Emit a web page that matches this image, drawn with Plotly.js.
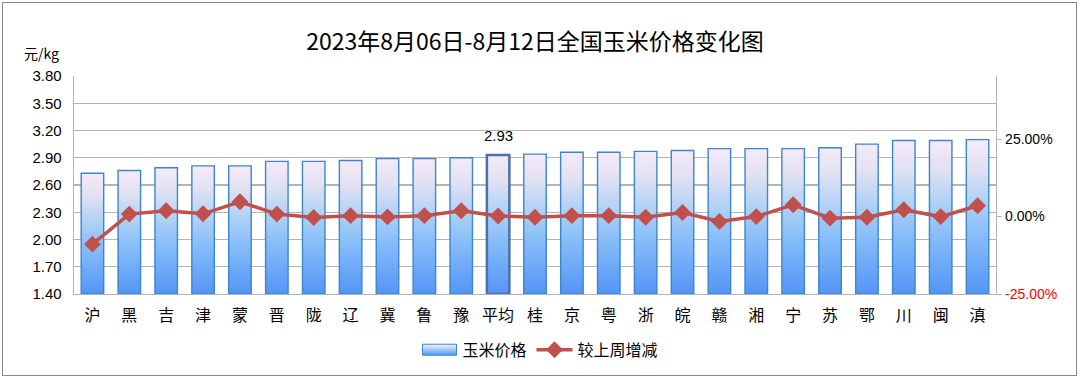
<!DOCTYPE html>
<html>
<head>
<meta charset="utf-8">
<script src="https://cdn.plot.ly/plotly-3.0.1.min.js"></script>
<style>
  html, body { margin: 0; padding: 0; background: #fff; }
  #wrap { position: relative; width: 1080px; height: 379px; }
  #chart { position: absolute; left: 0; top: 0; width: 1080px; height: 379px; }
  #frame { position: absolute; left: 2px; top: 2px; width: 1073px; height: 372px; border: 1px solid #8a8a8a; pointer-events: none; }
</style>
</head>
<body>
<div id="wrap"><div id="chart"></div><div id="frame"></div></div>
<script>
// ---- data ----
const titleText = "2023年8月06日-8月12日全国玉米价格变化图";
const regions = ["沪","黑","吉","津","蒙","晋","陇","辽","冀","鲁","豫","平均","桂","京","粤","浙","皖","赣","湘","宁","苏","鄂","川","闽","滇"];
const prices  = [2.73,2.76,2.79,2.81,2.81,2.86,2.86,2.87,2.89,2.89,2.90,2.93,2.94,2.96,2.96,2.97,2.98,3.00,3.00,3.00,3.01,3.05,3.09,3.09,3.10];
const weekChange = [-0.089,0.008,0.019,0.009,0.048,0.008,-0.003,0.003,-0.001,0.003,0.019,0.002,-0.002,0.003,0.003,-0.002,0.013,-0.016,0.000,0.038,-0.005,-0.002,0.022,0.000,0.035];
const priceName = "玉米价格";
const changeName = "较上周增减";
const avgLabel = "平均";
const leftTicks = [1.40,1.70,2.00,2.30,2.60,2.90,3.20,3.50,3.80];
const rightTicks = [-0.25,0,0.25];
const rightTickText = ['<span style="color:#ff0000">-25.00%</span>','0.00%','25.00%'];

const cjk = "Liberation Sans, Noto Sans CJK SC, sans-serif";
const avgIdx = regions.indexOf(avgLabel);
const axisMin = leftTicks[0];

const barLineColors = regions.map((r,i)=> i===avgIdx ? '#4a72a8' : '#3b86cc');
const barLineWidths = regions.map((r,i)=> i===avgIdx ? 2.5 : 1.4);

// bars start at the axis floor so the per-bar gradient spans only the visible part
const bars = {
  type: 'bar', name: priceName, x: regions, y: prices.map(v => v - axisMin), base: axisMin,
  marker: { color: '#8fc0f8', line: { color: barLineColors, width: barLineWidths } },
  hoverinfo: 'skip'
};
const line = {
  type: 'scatter', mode: 'lines+markers', name: changeName, x: regions, y: weekChange, yaxis: 'y2',
  line: { color: '#c0504d', width: 3.5 },
  marker: { symbol: 'diamond', size: 13, color: '#c0504d' },
  hoverinfo: 'skip'
};

const layout = {
  width: 1080, height: 379,
  margin: { l: 74, r: 84, t: 76, b: 85 },
  paper_bgcolor: 'rgba(0,0,0,0)', plot_bgcolor: '#fff',
  font: { family: cjk, color: '#000', size: 14 },
  title: { text: titleText, x: 0.5, xref: 'paper', xanchor: 'center', y: 0.89, yref: 'container', yanchor: 'middle',
           font: { family: 'Noto Sans CJK SC, sans-serif', size: 23, color: '#000' } },
  bargap: 0.39,
  showlegend: true,
  legend: { orientation: 'h', x: 0.5, xanchor: 'center', xref: 'container', y: 0.077, yref: 'container', yanchor: 'middle',
            font: { family: 'Noto Sans CJK SC, sans-serif', size: 16, color: '#000' }, itemwidth: 36, traceorder: 'normal' },
  xaxis: {
    type: 'category', range: [-0.5, regions.length - 0.5], showgrid: false, ticks: '', showline: true, linecolor: '#b4b4b4', linewidth: 1.3,
    ticklabelstandoff: 6,
    tickfont: { family: 'Noto Sans CJK SC, sans-serif', size: 16, color: '#000' }, automargin: false
  },
  yaxis: {
    range: [axisMin, 3.80], tickvals: leftTicks, tickformat: '.2f', showgrid: true, gridcolor: '#b4b4b4', gridwidth: 1.3,
    showline: true, linecolor: '#b4b4b4', linewidth: 1.3, ticks: '', ticklabelstandoff: 8, zeroline: false,
    tickfont: { family: cjk, size: 15, color: '#000' }, automargin: false
  },
  yaxis2: {
    overlaying: 'y', side: 'right', range: [-0.25, 0.454], tickvals: rightTicks, ticktext: rightTickText,
    showgrid: false, zeroline: false, showline: true, linecolor: '#b4b4b4', linewidth: 1.3,
    ticks: 'outside', ticklen: 5, tickcolor: '#b4b4b4', tickfont: { family: cjk, size: 14, color: '#000' }, automargin: false
  },
  annotations: [
    { text: '元/kg', xref: 'paper', yref: 'paper', x: -0.0564, y: 1.105, xanchor: 'left', yanchor: 'middle', showarrow: false,
      font: { family: 'Noto Sans CJK SC, sans-serif', size: 14, color: '#000' } },
    { text: prices[avgIdx].toFixed(2), x: avgLabel, y: prices[avgIdx], xref: 'x', yref: 'y', yshift: 20, showarrow: false,
      font: { family: cjk, size: 15, color: '#000' } }
  ]
};

Plotly.newPlot('chart', [bars, line], layout, { displayModeBar: false, staticPlot: true }).then(function (gd) {
  const svgNS = 'http://www.w3.org/2000/svg';
  const svg = gd.querySelector('.main-svg');
  let defs = svg.querySelector('defs');
  if (!defs) { defs = document.createElementNS(svgNS, 'defs'); svg.insertBefore(defs, svg.firstChild); }
  const grad = document.createElementNS(svgNS, 'linearGradient');
  grad.setAttribute('id', 'barGrad');
  grad.setAttribute('x1', '0'); grad.setAttribute('y1', '0'); grad.setAttribute('x2', '0'); grad.setAttribute('y2', '1');
  [['0%', '#f6eaf8'], ['18%', '#e2e1f2'], ['42%', '#acd0f6'], ['62%', '#86bdf9'], ['100%', '#5495f6']].forEach(function (s) {
    const st = document.createElementNS(svgNS, 'stop');
    st.setAttribute('offset', s[0]); st.setAttribute('stop-color', s[1]);
    grad.appendChild(st);
  });
  defs.appendChild(grad);
  gd.querySelectorAll('.barlayer .point path').forEach(function (p) { p.style.fill = 'url(#barGrad)'; });
  const legTraces = gd.querySelectorAll('.legend .traces');
  if (legTraces.length) {
    legTraces[0].querySelectorAll('.legendpoints path').forEach(function (p) {
      p.style.fill = 'url(#barGrad)';
      p.setAttribute('d', 'M17,5.5H-17V-5.5H17Z');
      p.style.stroke = '#3b86cc'; p.style.strokeWidth = '1px';
    });
  }
});
</script>
</body>
</html>
